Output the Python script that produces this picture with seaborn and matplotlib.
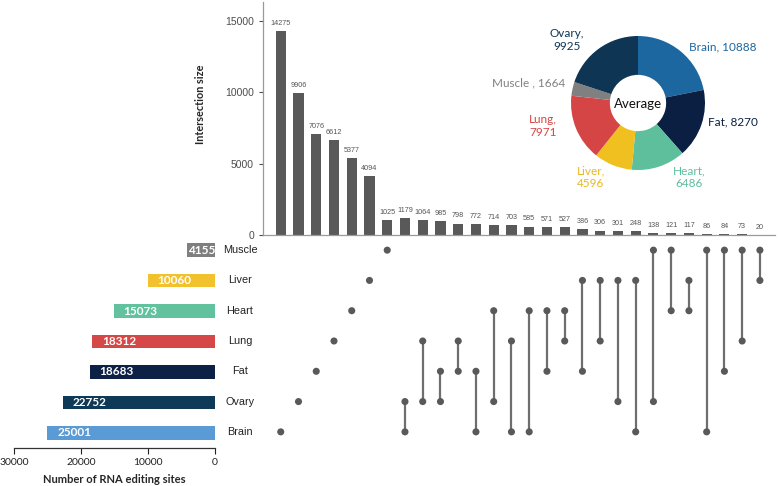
import numpy as np
import pandas as pd
import matplotlib
matplotlib.use('Agg')
import matplotlib.pyplot as plt
import seaborn as sns

sns.set_style('white')
plt.rcParams['font.family'] = ['Liberation Sans', 'DejaVu Sans']

# 数据
sets = ['Muscle', 'Liver', 'Heart', 'Lung', 'Fat', 'Ovary', 'Brain']
set_sizes = [4155, 10060, 15073, 18312, 18683, 22752, 25001]
set_colors = ['#7f7f7f', '#f2c12e', '#62c29e', '#d64848', '#0c2145', '#0e3a57', '#5b9bd5']

inter_sizes = [14275, 9906, 7076, 6612, 5377, 4094, 1025, 1179, 1064, 985, 798, 772, 714, 703,
               585, 571, 527, 386, 306, 301, 248, 138, 121, 117, 86, 84, 73, 20]
inter_members = [
    ['Brain'], ['Ovary'], ['Fat'], ['Lung'], ['Heart'], ['Liver'], ['Muscle'],
    ['Ovary', 'Brain'], ['Lung', 'Ovary'], ['Fat', 'Ovary'], ['Lung', 'Fat'], ['Fat', 'Brain'],
    ['Heart', 'Ovary'], ['Lung', 'Brain'], ['Heart', 'Brain'], ['Heart', 'Fat'], ['Heart', 'Lung'],
    ['Liver', 'Fat'], ['Liver', 'Lung'], ['Liver', 'Ovary'], ['Liver', 'Brain'],
    ['Muscle', 'Ovary'], ['Muscle', 'Heart'], ['Liver', 'Heart'], ['Muscle', 'Brain'],
    ['Muscle', 'Fat'], ['Muscle', 'Lung'], ['Muscle', 'Liver'],
]

avg_labels = ['Brain', 'Fat', 'Heart', 'Liver', 'Lung', 'Muscle', 'Ovary']
avg_values = [10888, 8270, 6486, 4596, 7971, 1664, 9925]
avg_colors = ['#1d67a0', '#0b1f42', '#5dbf9c', '#f0c020', '#d64545', '#808080', '#0e3554']

W, H = 778, 486
fig = plt.figure(figsize=(W / 100, H / 100), dpi=100)


def rect(x0, y0, x1, y1):
    # 像素坐标 -> 图坐标
    return [x0 / W, 1 - y1 / H, (x1 - x0) / W, (y1 - y0) / H]


gray = '#595959'
tick_col = '#4d4d4d'
lato = ['Lato', 'DejaVu Sans']

# 1. 交集柱状图
ax_bar = fig.add_axes(rect(263, 2, 775, 235))
df_int = pd.DataFrame({'idx': np.arange(len(inter_sizes)), 'size': inter_sizes})
sns.barplot(data=df_int, x='idx', y='size', color=gray, width=0.57, ax=ax_bar,
            saturation=1, edgecolor='none')
ax_bar.bar_label(ax_bar.containers[0], padding=3, fontsize=5.2, color='#555555')
ax_bar.set_xlim(-1.0, 27.85)
ax_bar.set_ylim(0, 16300)
ax_bar.set_yticks([0, 5000, 10000, 15000])
ax_bar.set_xticks([])
ax_bar.set_xlabel('')
ax_bar.set_ylabel('Intersection size', fontsize=7.8, fontweight='bold', family=lato)
ax_bar.yaxis.set_label_coords(-0.112, 0.56)
ax_bar.tick_params(axis='y', labelsize=7.5, colors=tick_col, length=3, width=0.8, left=True)
for s in ['top', 'right']:
    ax_bar.spines[s].set_visible(False)
for s in ['left', 'bottom']:
    ax_bar.spines[s].set_color('#9a9a9a')
    ax_bar.spines[s].set_linewidth(0.9)

# 2. 矩阵点图
ax_m = fig.add_axes(rect(263, 235, 775, 447))
row_of = {s: i for i, s in enumerate(sets)}
pts = []
for j, mem in enumerate(inter_members):
    rows = [row_of[m] for m in mem]
    if len(rows) > 1:
        ax_m.plot([j, j], [min(rows), max(rows)], color='#6e6e6e', lw=1.6, zorder=1)
    for r in rows:
        pts.append((j, r))
df_pts = pd.DataFrame(pts, columns=['col', 'row'])
sns.scatterplot(data=df_pts, x='col', y='row', color=gray, s=26, edgecolor='none', ax=ax_m, zorder=2)
ax_m.set_xlim(-1.0, 27.85)
ax_m.set_ylim(6.5, -0.5)
ax_m.axis('off')
for i, s in enumerate(sets):
    ax_m.text(-0.045, i, s, transform=ax_m.get_yaxis_transform(), ha='center', va='center',
              fontsize=7.8, color='#222222')

# 3. 左侧集合大小条形图
ax_l = fig.add_axes(rect(14, 235, 215, 448))
df_set = pd.DataFrame({'set': sets, 'size': set_sizes})
sns.barplot(data=df_set, y='set', x='size', hue='set', palette=set_colors, legend=False,
            orient='h', width=0.45, saturation=1, ax=ax_l, edgecolor='none')
ax_l.set_xlim(30000, 0)
ax_l.set_ylim(6.5, -0.5)
ax_l.set_yticks([])
ax_l.set_ylabel('')
ax_l.set_xticks([30000, 20000, 10000, 0])
ax_l.set_xticklabels(['30000', '20000', '10000', '0'], family=lato)
ax_l.tick_params(axis='x', labelsize=7.5, colors='#222222', length=4, width=0.8, bottom=True, pad=3)
ax_l.set_xlabel('Number of RNA editing sites', fontsize=8, fontweight='bold',
                family=lato, labelpad=5)
for s in ['top', 'right', 'left']:
    ax_l.spines[s].set_visible(False)
ax_l.spines['bottom'].set_color('#333333')
ax_l.spines['bottom'].set_linewidth(0.9)
for i, v in enumerate(set_sizes):
    pad = 7 if v > 8000 else 0.5
    ax_l.annotate(str(v), xy=(v, i), xytext=(pad, 0), textcoords='offset points',
                  ha='left', va='center', color='white', fontweight='bold', fontsize=8.5,
                  family=lato)

# 4. 平均值环形图
cx, cy, R = 638, 103, 67
ax_p = fig.add_axes(rect(470, 0, 778, 210))
ax_p.pie(avg_values, colors=avg_colors, startangle=90, counterclock=False, radius=1,
         wedgeprops=dict(width=0.58, linewidth=0))
ax_p.set_xlim((470 - cx) / R, (778 - cx) / R)
ax_p.set_ylim((cy - 210) / R, (cy - 0) / R)
ax_p.set_aspect('auto')
ax_p.axis('off')


def d(px, py):
    return (px - cx) / R, (cy - py) / R


lab_font = dict(fontsize=8.5, family=lato, linespacing=1.15)
ax_p.text(*d(638, 104), 'Average', ha='center', va='center', fontsize=9.5,
          family=lato, color='#111111')
ax_p.text(*d(567, 40), 'Ovary,\n9925', ha='center', va='center', color=avg_colors[6], **lab_font)
ax_p.text(*d(723, 47), 'Brain, 10888', ha='center', va='center', color=avg_colors[0], **lab_font)
ax_p.text(*d(565, 83), 'Muscle , 1664', ha='right', va='center', color='#808080', **lab_font)
ax_p.text(*d(733, 122), 'Fat, 8270', ha='center', va='center', color=avg_colors[1], **lab_font)
ax_p.text(*d(543, 126), 'Lung,\n7971', ha='center', va='center', color=avg_colors[4], **lab_font)
ax_p.text(*d(591, 177), 'Liver,\n4596', ha='center', va='center', color='#e8b820', **lab_font)
ax_p.text(*d(689, 177), 'Heart,\n6486', ha='center', va='center', color=avg_colors[2], **lab_font)

fig.savefig('out.png', dpi=100)
